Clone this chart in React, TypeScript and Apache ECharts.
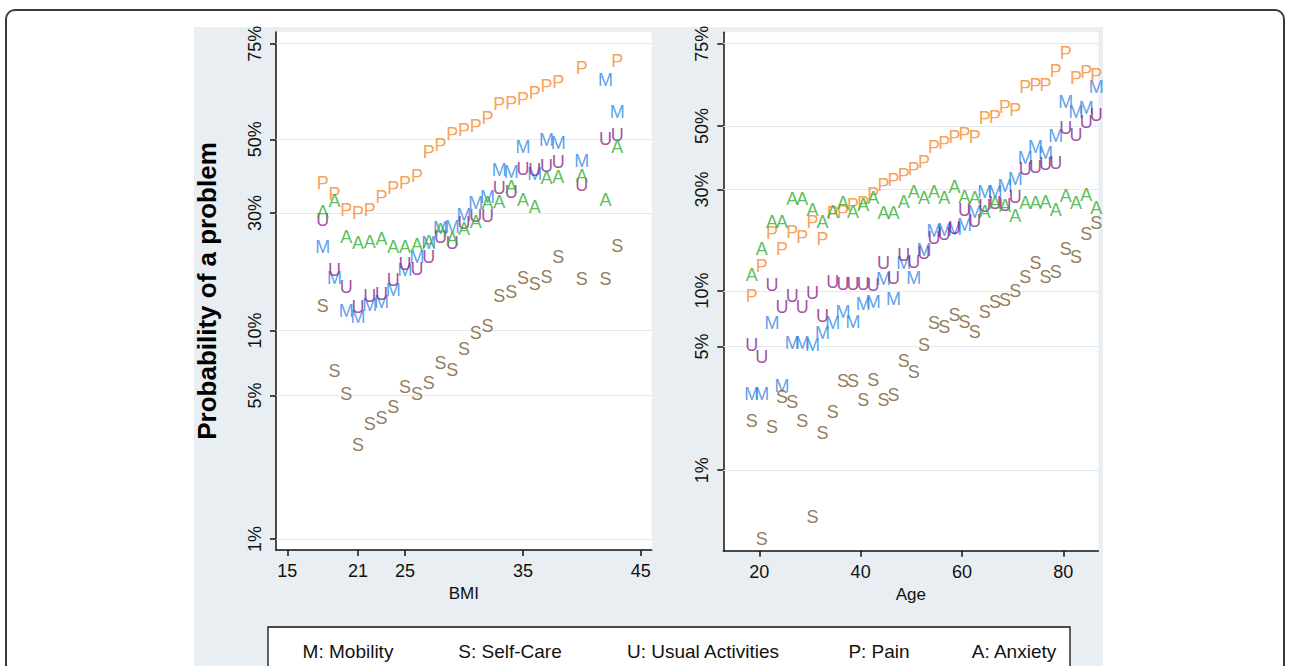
import React, { useEffect, useRef } from "react";
import * as echarts from "echarts";

// ---------- data (probabilities in %) ----------
const bmi = [18, 19, 20, 21, 22, 23, 24, 25, 26, 27, 28, 29, 30, 31, 32, 33, 34, 35, 36, 37, 38, 40, 42, 43];
const bmiM = [22.5, 16.8, 12.2, 11.5, 13.0, 13.4, 15.0, 18.2, 20.5, 23.3, 26.6, 26.8, 29.5, 32.5, 34.0, 41.3, 40.7, 47.8, 40.2, 49.8, 48.9, 43.8, 66.4, 57.8];
const bmiS = [12.8, 6.5, 5.1, 2.9, 3.65, 3.9, 4.4, 5.5, 5.1, 5.7, 7.1, 6.6, 8.2, 9.7, 10.5, 14.2, 14.8, 16.8, 16.0, 17.0, 20.6, 16.7, 16.7, 22.7];
const bmiU = [28.3, 18.2, 15.5, 12.7, 14.2, 14.5, 16.6, 19.3, 18.4, 20.5, 24.6, 23.3, 27.6, 29.3, 29.3, 36.4, 35.3, 41.5, 41.3, 42.4, 43.5, 37.2, 50.1, 51.2];
const bmiP = [37.7, 34.8, 30.7, 30.1, 30.7, 34.0, 36.4, 37.7, 39.6, 46.4, 48.4, 51.5, 52.7, 53.8, 56.0, 60.0, 60.3, 61.4, 62.9, 64.9, 66.0, 69.5, null, 71.1];
const bmiA = [30.2, 33.0, 24.5, 23.2, 23.4, 24.1, 22.5, 22.5, 22.8, 23.5, 26.1, 24.2, 26.3, 27.9, 32.5, 32.8, 36.6, 33.2, 31.5, 39.1, 39.3, 39.6, 33.2, 47.8];

const ages = [18.5, 20.5, 22.5, 24.5, 26.5, 28.5, 30.5, 32.5, 34.5, 36.5, 38.5, 40.5, 42.5, 44.5, 46.5, 48.5, 50.5, 52.5, 54.5, 56.5, 58.5, 60.5, 62.5, 64.5, 66.5, 68.5, 70.5, 72.5, 74.5, 76.5, 78.5, 80.5, 82.5, 84.5, 86.5];
const ageM = [2.7, 2.7, 6.7, 3.0, 5.2, 5.2, 5.1, 5.9, 6.7, 7.7, 6.8, 8.5, 8.7, 11.5, 9.0, 13.9, 11.6, 16.0, 19.8, 20.0, 20.2, 21.1, 24.2, 29.4, 29.2, 31.0, 33.0, 39.5, 42.9, 41.2, 46.7, 57.8, 54.8, 56.1, 62.6];
const ageS = [1.92, 0.40, 1.77, 2.60, 2.45, 1.91, 0.54, 1.63, 2.15, 3.22, 3.22, 2.50, 3.26, 2.50, 2.68, 4.16, 3.62, 5.1, 6.7, 6.4, 7.4, 6.8, 6.0, 7.7, 8.7, 8.9, 9.9, 11.8, 13.9, 11.8, 12.5, 16.2, 14.9, 19.1, 21.5];
const ageU = [5.1, 4.4, 10.7, 8.2, 9.4, 8.2, 9.7, 7.3, 11.1, 10.8, 10.8, 10.8, 10.7, 13.9, 11.6, 15.2, 14.0, 15.5, 18.4, 19.1, 20.3, 24.6, 22.0, 25.6, 26.3, 25.8, 27.9, 36.0, 36.8, 37.6, 37.8, 49.5, 47.0, 51.4, 53.7];
const ageP = [9.4, 13.4, 19.4, 16.2, 19.5, 18.6, 21.8, 18.2, 23.8, 24.1, 25.8, 26.3, 28.7, 31.3, 32.7, 34.2, 36.0, 38.1, 43.1, 44.3, 46.2, 47.3, 46.4, 52.6, 53.0, 56.4, 55.3, 62.8, 63.4, 63.4, 67.6, 72.6, 65.4, 67.3, 66.4];
const ageA = [12.0, 16.2, 21.8, 21.8, 27.3, 27.3, 24.6, 21.8, 24.2, 26.3, 24.2, 25.8, 27.6, 23.8, 23.8, 26.5, 29.4, 27.6, 29.4, 27.6, 30.8, 28.0, 27.6, 24.0, 26.3, 25.5, 23.1, 26.3, 26.3, 26.5, 24.6, 28.2, 26.3, 28.5, 25.0];

const yTicks = [1, 5, 10, 30, 50, 75];
const bmiTicks = [15, 21, 25, 35, 45];
const ageTicks = [20, 40, 60, 80];
const legendItems = ["M: Mobility", "S: Self-Care", "U: Usual Activities", "P: Pain", "A: Anxiety"];

// ---------- styling ----------
const FONT = "'Liberation Sans', Arial, Helvetica, sans-serif";
const COLORS: Record<string, string> = {
  M: "#3189e6",
  S: "#76582f",
  U: "#8a2389",
  P: "#f58a2c",
  A: "#2fae2f",
};

const logit = (pct: number) => Math.log(pct / (100 - pct));
const yTickVals = yTicks.map(logit);
const yFmt = (v: number) => {
  let best = yTicks[0];
  let d = Infinity;
  yTicks.forEach((t) => {
    const dd = Math.abs(logit(t) - v);
    if (dd < d) {
      d = dd;
      best = t;
    }
  });
  return best + "%";
};

function letterSeries(letter: string, xs: number[], ys: (number | null)[], idx: number) {
  const data: number[][] = [];
  xs.forEach((x, i) => {
    const y = ys[i];
    if (y != null) data.push([x, logit(y)]);
  });
  return {
    type: "scatter",
    name: letter,
    xAxisIndex: idx,
    yAxisIndex: idx,
    data,
    symbol: "circle",
    symbolSize: 1,
    itemStyle: { color: "rgba(0,0,0,0)" },
    label: {
      show: true,
      position: "inside",
      formatter: letter,
      color: COLORS[letter],
      fontSize: 18,
      fontFamily: FONT,
    },
    silent: true,
    z: 10,
  };
}

function gridLineSeries(idx: number, x: number) {
  return {
    type: "scatter",
    xAxisIndex: idx,
    yAxisIndex: idx,
    data: [[x, 0]],
    symbolSize: 0,
    itemStyle: { color: "rgba(0,0,0,0)" },
    silent: true,
    z: 1,
    markLine: {
      silent: true,
      symbol: ["none", "none"],
      label: { show: false },
      lineStyle: { color: "#e2eaee", width: 1.2, type: "solid" },
      data: yTickVals.map((v) => ({ yAxis: v })),
      animation: false,
    },
  };
}

function xAxisOpt(grid: number, min: number, max: number, ticks: number[], name: string) {
  return {
    gridIndex: grid,
    type: "value",
    min,
    max,
    name,
    nameLocation: "middle",
    nameGap: 31,
    nameTextStyle: { fontSize: 17, color: "#111", fontFamily: FONT },
    axisLine: { show: true, onZero: false, lineStyle: { color: "#111", width: 1.5 } },
    axisTick: { show: true, length: 6, customValues: ticks, lineStyle: { color: "#111", width: 1.5 } },
    axisLabel: { customValues: ticks, fontSize: 18, color: "#111", margin: 12, fontFamily: FONT },
    splitLine: { show: false },
  };
}

function yAxisOpt(grid: number, min: number, max: number, withName: boolean) {
  return {
    gridIndex: grid,
    type: "value",
    min,
    max,
    name: withName ? "Probability of a problem" : "",
    nameLocation: "middle",
    nameRotate: 90,
    nameGap: 56,
    nameTextStyle: { fontSize: 26, fontWeight: "bold", color: "#000", fontFamily: FONT },
    axisLine: { show: true, onZero: false, lineStyle: { color: "#111", width: 1.5 } },
    axisTick: { show: true, length: 6, customValues: yTickVals, lineStyle: { color: "#111", width: 1.5 } },
    axisLabel: {
      customValues: yTickVals,
      rotate: 90,
      fontSize: 18,
      color: "#111",
      margin: 12,
      fontFamily: FONT,
      formatter: (v: number) => yFmt(v),
    },
    splitLine: { show: false },
  };
}

const legendX = [348, 510, 703, 879, 1014];

export default function App() {
  const ref = useRef<HTMLDivElement>(null);

  useEffect(() => {
    document.body.style.margin = "0";
    if (!ref.current) return;
    const chart = echarts.init(ref.current, undefined, { renderer: "svg" });
    const series: any[] = [
      gridLineSeries(0, 30),
      gridLineSeries(1, 50),
      letterSeries("M", bmi, bmiM, 0),
      letterSeries("S", bmi, bmiS, 0),
      letterSeries("U", bmi, bmiU, 0),
      letterSeries("P", bmi, bmiP, 0),
      letterSeries("A", bmi, bmiA, 0),
      letterSeries("M", ages, ageM, 1),
      letterSeries("S", ages, ageS, 1),
      letterSeries("U", ages, ageU, 1),
      letterSeries("P", ages, ageP, 1),
      letterSeries("A", ages, ageA, 1),
    ];
    chart.setOption({
      animation: false,
      backgroundColor: "transparent",
      tooltip: { show: false },
      grid: [
        { left: 276, top: 32, width: 375.7, height: 518, show: true, backgroundColor: "#fff", borderWidth: 0 },
        { left: 723.3, top: 32.3, width: 375, height: 518.4, show: true, backgroundColor: "#fff", borderWidth: 0 },
      ],
      xAxis: [
        xAxisOpt(0, 14.04, 45.93, bmiTicks, "BMI"),
        xAxisOpt(1, 12.9, 86.9, ageTicks, "Age"),
      ],
      yAxis: [yAxisOpt(0, -4.7207, 1.2333, true), yAxisOpt(1, -5.67, 1.251, false)],
      series,
      graphic: [
        {
          type: "rect",
          shape: { x: 268, y: 627, width: 802, height: 60 },
          style: { fill: "#fff", stroke: "#111", lineWidth: 1.3 },
          silent: true,
        },
        ...legendItems.map((t, i) => ({
          type: "text",
          x: legendX[i],
          y: 651,
          silent: true,
          style: {
            text: t,
            fill: "#111",
            fontSize: 19,
            fontFamily: FONT,
            align: "center",
            verticalAlign: "middle",
            textAlign: "center",
            textVerticalAlign: "middle",
          },
        })),
      ],
    });
    return () => chart.dispose();
  }, []);

  return (
    <div style={{ position: "relative", width: 1289, height: 666, overflow: "hidden", background: "#fff" }}>
      <div
        style={{
          position: "absolute",
          left: 5,
          top: 9,
          width: 1280,
          height: 720,
          boxSizing: "border-box",
          border: "2px solid #3a3a3a",
          borderRadius: 10,
        }}
      />
      <div style={{ position: "absolute", left: 194, top: 27, width: 909, height: 660, background: "#e8eef1" }} />
      <div ref={ref} style={{ position: "absolute", left: 0, top: 0, width: 1289, height: 666 }} />
    </div>
  );
}
